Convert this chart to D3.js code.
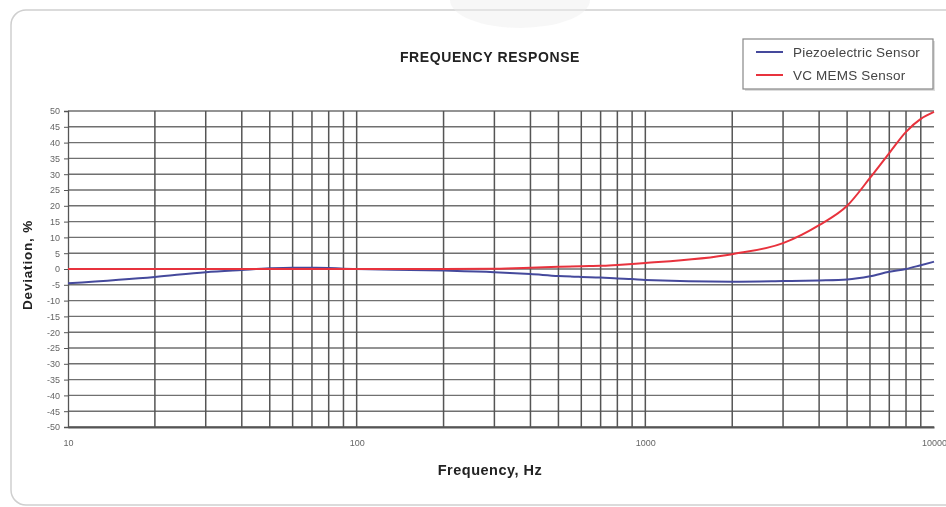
<!DOCTYPE html>
<html>
<head>
<meta charset="utf-8">
<script src="https://cdn.jsdelivr.net/npm/d3@7"></script>
<style>
  body { margin: 0; background: #fff; }
  text { font-family: "Liberation Sans", Arial, sans-serif; }
</style>
</head>
<body>
<svg id="chart" width="946" height="507"></svg>
<script>
// frequency points (Hz) and deviation (%)
const freqs = [10, 20, 30, 40, 50, 60, 70, 80, 90, 100, 200, 300, 400, 500, 600, 700, 800, 900,
               1000, 2000, 3000, 4000, 5000, 6000, 7000, 8000, 9000, 10000];
const piezo = [-4.5, -2.5, -1, -0.3, 0.2, 0.4, 0.4, 0.3, 0.1, 0, -0.5, -1, -1.6, -2.2, -2.5, -2.7, -3, -3.2,
               -3.5, -4, -3.8, -3.6, -3.3, -2.3, -0.9, 0, 1.2, 2.3];
const mems = [0, 0, 0, 0, 0, 0, 0, 0, 0, 0, 0, 0.1, 0.4, 0.7, 0.9, 1, 1.3, 1.6,
              1.9, 4.7, 8.2, 13.9, 20, 28.8, 36.7, 43.4, 47.5, 49.7];
const seriesNames = ["Piezoelectric Sensor", "VC MEMS Sensor"];
const seriesColors = ["#454a9c", "#e8333d"];
const xTickLabels = [10, 100, 1000, 10000];
const yTicks = d3.range(-50, 51, 5);

const margin = {top: 111, right: 12, bottom: 80, left: 68};
const width = 946, height = 507;

const svg = d3.select("#chart");

svg.append("defs").append("filter")
    .attr("id", "soft")
    .append("feGaussianBlur")
    .attr("stdDeviation", 0.45);

// card background
svg.append("rect")
    .attr("x", 11).attr("y", 10)
    .attr("width", 1000).attr("height", 495)
    .attr("rx", 15)
    .attr("fill", "#fff")
    .attr("stroke", "#cfcfcf")
    .attr("stroke-width", 1.5);
// faint watermark at the top
svg.append("ellipse")
    .attr("cx", 520).attr("cy", 0)
    .attr("rx", 70).attr("ry", 28)
    .attr("fill", "#eee")
    .attr("opacity", 0.45);

const g = svg.append("g").attr("filter", "url(#soft)");

const x = d3.scaleLog()
    .domain([10, 10000])
    .range([margin.left, width - margin.right]);
const y = d3.scaleLinear()
    .domain([-50, 50])
    .range([height - margin.bottom, margin.top]);

// horizontal grid
g.append("g")
    .selectAll("line")
    .data(yTicks)
    .join("line")
    .attr("x1", x(10)).attr("x2", x(10000))
    .attr("y1", d => y(d)).attr("y2", d => y(d))
    .attr("stroke", "#6f6f6f")
    .attr("stroke-width", 1.4);

// vertical grid at every minor step
const vGrid = freqs.filter(f => f > 10 && f < 10000);
g.append("g")
    .selectAll("line")
    .data(vGrid)
    .join("line")
    .attr("x1", d => x(d)).attr("x2", d => x(d))
    .attr("y1", y(50)).attr("y2", y(-50))
    .attr("stroke", "#555")
    .attr("stroke-width", 1.5);

// axes
const yAxis = d3.axisLeft(y).tickValues(yTicks).tickFormat(d => String(d)).tickSize(4).tickPadding(4);
g.append("g")
    .attr("transform", `translate(${margin.left},0)`)
    .call(yAxis)
    .call(a => a.select(".domain").attr("stroke", "#555").attr("stroke-width", 1.3))
    .call(a => a.selectAll(".tick line").attr("stroke", "#555"))
    .call(a => a.selectAll("text").attr("font-size", 9).attr("fill", "#666"));

const xAxis = d3.axisBottom(x).tickValues(xTickLabels).tickFormat(d => String(d)).tickSize(0).tickPadding(13);
g.append("g")
    .attr("transform", `translate(0,${height - margin.bottom})`)
    .call(xAxis)
    .call(a => a.select(".domain").attr("stroke", "#555").attr("stroke-width", 2))
    .call(a => a.selectAll("text").attr("font-size", 9).attr("fill", "#666"));

// lines
const line = d3.line()
    .x((d, i) => x(freqs[i]))
    .y(d => y(d))
    .curve(d3.curveMonotoneX);

[piezo, mems].forEach((vals, k) => {
    g.append("path")
        .datum(vals)
        .attr("fill", "none")
        .attr("stroke", seriesColors[k])
        .attr("stroke-width", 2)
        .attr("stroke-linejoin", "round")
        .attr("d", line);
});

// titles
g.append("text")
    .attr("x", 490).attr("y", 62)
    .attr("text-anchor", "middle")
    .attr("font-size", 14)
    .attr("font-weight", "bold")
    .attr("letter-spacing", 0.6)
    .attr("fill", "#222")
    .text("FREQUENCY RESPONSE");

g.append("text")
    .attr("x", 490).attr("y", 475)
    .attr("text-anchor", "middle")
    .attr("font-size", 14.5)
    .attr("font-weight", "bold")
    .attr("letter-spacing", 0.5)
    .attr("fill", "#222")
    .text("Frequency, Hz");

g.append("text")
    .attr("transform", `translate(32,${y(0) - 4}) rotate(-90)`)
    .attr("text-anchor", "middle")
    .attr("font-size", 13.5)
    .attr("font-weight", "bold")
    .attr("letter-spacing", 0.8)
    .attr("fill", "#222")
    .text("Deviation, %");

// legend
const legend = g.append("g").attr("transform", "translate(743,39)");
legend.append("rect")
    .attr("x", 2).attr("y", 2)
    .attr("width", 190).attr("height", 50)
    .attr("fill", "#ddd");
legend.append("rect")
    .attr("width", 190).attr("height", 50)
    .attr("fill", "#fff")
    .attr("stroke", "#888")
    .attr("stroke-width", 1.2);
seriesNames.forEach((name, k) => {
    const row = legend.append("g").attr("transform", `translate(0,${13 + k * 23})`);
    row.append("line")
        .attr("x1", 13).attr("x2", 40)
        .attr("stroke", seriesColors[k])
        .attr("stroke-width", 2);
    row.append("text")
        .attr("x", 50).attr("y", 4.5)
        .attr("font-size", 13.5)
        .attr("letter-spacing", 0.2)
        .attr("fill", "#444")
        .text(name);
});
</script>
</body>
</html>
